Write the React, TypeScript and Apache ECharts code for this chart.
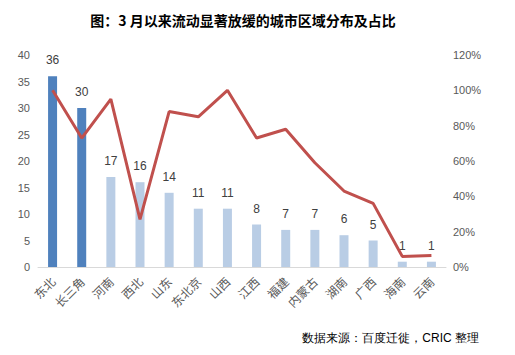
import React, { useEffect, useRef } from "react";
import * as echarts from "echarts";

const categories = ["东北", "长三角", "河南", "西北", "山东", "东北京", "山西", "江西", "福建", "内蒙古", "湖南", "广西", "海南", "云南"];
const cityCounts = [36, 30, 17, 16, 14, 11, 11, 8, 7, 7, 6, 5, 1, 1];
const shares = [100, 73, 95, 27, 88, 85, 100, 73, 78, 59, 43, 36, 6, 6.5];
const highlightCount = 2;
const leftTicks = [0, 5, 10, 15, 20, 25, 30, 35, 40];
const rightTicks = [0, 20, 40, 60, 80, 100, 120];

export default function App() {
  const ref = useRef<HTMLDivElement>(null);
  useEffect(() => {
    const chart = echarts.init(ref.current!, null, { renderer: "svg" });
    const font = "'Liberation Sans', 'Noto Sans CJK SC', sans-serif";
    chart.setOption({
      animation: false,
      backgroundColor: "#ffffff",
      title: {
        text: "图：3 月以来流动显著放缓的城市区域分布及占比",
        left: 238,
        textAlign: "center",
        top: 8,
        textStyle: { fontSize: 14, fontWeight: "bold", color: "#000", fontFamily: "'Noto Sans CJK SC', sans-serif" },
      },
      graphic: [
        {
          type: "text",
          right: 36,
          top: 332,
          style: { text: "数据来源：百度迁徙，CRIC 整理", fontSize: 12, fill: "#000", font: "12px 'Noto Sans CJK SC', sans-serif" },
        },
      ],
      grid: { left: 38, right: 69, top: 55, bottom: 88, containLabel: false },
      xAxis: {
        type: "category",
        data: categories,
        axisTick: { show: false },
        axisLine: { lineStyle: { color: "#D9D9D9", width: 1 } },
        axisLabel: {
          rotate: 45,
          interval: 0,
          color: "#595959",
          fontSize: 12,
          margin: 12,
          fontFamily: "'Noto Sans CJK SC', sans-serif",
        },
      },
      yAxis: [
        {
          type: "value",
          min: leftTicks[0],
          max: leftTicks[leftTicks.length - 1],
          interval: 5,
          splitLine: { show: false },
          axisLine: { show: false },
          axisTick: { show: false },
          axisLabel: { color: "#595959", fontSize: 11, margin: 8, fontFamily: font },
        },
        {
          type: "value",
          min: rightTicks[0],
          max: rightTicks[rightTicks.length - 1],
          interval: 20,
          splitLine: { show: false },
          axisLine: { show: false },
          axisTick: { show: false },
          axisLabel: { color: "#595959", fontSize: 11, margin: 7, formatter: "{value}%", fontFamily: font },
        },
      ],
      series: [
        {
          type: "bar",
          yAxisIndex: 0,
          barWidth: 9,
          data: cityCounts.map((v, i) => ({
            value: v,
            itemStyle: { color: i < highlightCount ? "#4F81BD" : "#B9CDE5" },
          })),
          label: {
            show: true,
            position: "top",
            distance: 10,
            color: "#404040",
            fontSize: 12,
            fontFamily: font,
          },
        },
        {
          type: "line",
          yAxisIndex: 1,
          data: shares,
          symbol: "none",
          lineStyle: { color: "#C0504D", width: 3 },
          z: 3,
        },
      ],
    });
    return () => chart.dispose();
  }, []);
  return <div ref={ref} style={{ width: 515, height: 355, position: "absolute", left: 0, top: 0 }} />;
}
